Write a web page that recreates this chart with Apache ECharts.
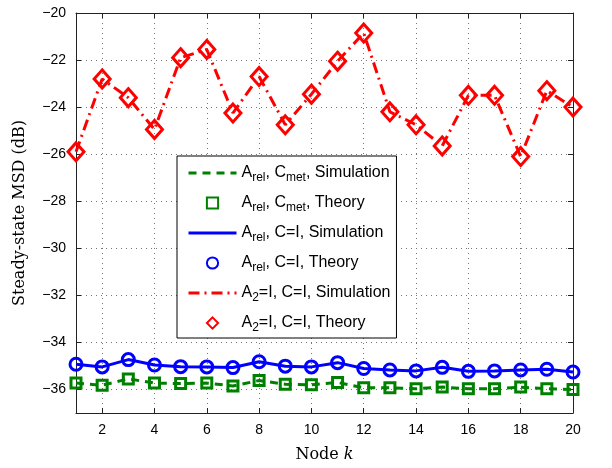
<!DOCTYPE html>
<html>
<head>
<meta charset="utf-8">
<script src="https://cdn.jsdelivr.net/npm/echarts@6/dist/echarts.min.js"></script>
<style>html,body{margin:0;padding:0;background:#fff}#c{width:612px;height:468px}</style>
</head>
<body>
<div id="c"></div>
<script>
const nodes = [1,2,3,4,5,6,7,8,9,10,11,12,13,14,15,16,17,18,19,20];
const xTicks = [2,4,6,8,10,12,14,16,18,20];
const yTicks = [-36,-34,-32,-30,-28,-26,-24,-22,-20];

const relMetSim = [-35.73,-35.82,-35.55,-35.73,-35.75,-35.73,-35.85,-35.62,-35.78,-35.80,-35.70,-35.93,-35.93,-35.97,-35.90,-35.97,-35.97,-35.90,-35.97,-36.00];
const relMetTheory = [-35.73,-35.82,-35.55,-35.73,-35.75,-35.73,-35.85,-35.62,-35.78,-35.80,-35.70,-35.93,-35.93,-35.97,-35.90,-35.97,-35.97,-35.90,-35.97,-36.00];
const relISim = [-34.93,-35.04,-34.73,-34.96,-35.03,-35.04,-35.07,-34.82,-35.01,-35.04,-34.86,-35.11,-35.17,-35.21,-35.06,-35.23,-35.21,-35.17,-35.14,-35.26];
const relITheory = [-34.93,-35.04,-34.73,-34.96,-35.03,-35.04,-35.07,-34.82,-35.01,-35.04,-34.86,-35.11,-35.17,-35.21,-35.06,-35.23,-35.21,-35.17,-35.14,-35.26];
const a2ISim = [-25.9,-22.8,-23.6,-24.95,-21.9,-21.55,-24.25,-22.7,-24.75,-23.45,-22.05,-20.85,-24.2,-24.75,-25.65,-23.5,-23.5,-26.1,-23.3,-24.0];
const a2ITheory = [-25.9,-22.8,-23.6,-24.95,-21.9,-21.55,-24.25,-22.7,-24.75,-23.45,-22.05,-20.85,-24.2,-24.75,-25.65,-23.5,-23.5,-26.1,-23.3,-24.0];

const legendLabels = {
  g_sim: 'A{s|rel}, C{s|met}, Simulation',
  g_th: 'A{s|rel}, C{s|met}, Theory',
  b_sim: 'A{s|rel}, C=I, Simulation',
  b_th: 'A{s|rel}, C=I, Theory',
  r_sim: 'A{s|2}=I, C=I, Simulation',
  r_th: 'A{s|2}=I, C=I, Theory'
};

const GREEN = '#008000', BLUE = '#0000ff', RED = '#ff0000';
const pts = arr => nodes.map((n, i) => [n, arr[i]]);
const minus = v => String(v).replace('-', '\u2212');

function simSeries(name, arr, color, type, z) {
  return { name, type: 'line', data: pts(arr), symbol: 'none', showSymbol: false, z,
    itemStyle: { color }, lineStyle: { color, width: 3, type }, emphasis: { disabled: true } };
}
function thSeries(name, arr, color, symbol, size, z) {
  return { name, type: 'line', data: pts(arr), symbol, symbolSize: size, z,
    itemStyle: { color: 'transparent', borderColor: color, borderWidth: 3 },
    lineStyle: { width: 0, opacity: 0 }, emphasis: { disabled: true } };
}
const hiddenSym = { color: 'transparent', borderColor: 'transparent', borderWidth: 0, opacity: 0 };

const axisLineStyle = { color: '#222', width: 1 };
const option = {
  animation: false,
  backgroundColor: '#fff',
  grid: { left: 76, right: 39, top: 13, bottom: 53 },
  xAxis: [
    { type: 'value', min: 1, max: 20, position: 'bottom',
      name: 'Node {i|k}', nameLocation: 'middle', nameGap: 34,
      nameTextStyle: { fontFamily: 'DejaVu Serif', fontSize: 16, color: '#000',
        rich: { i: { fontFamily: 'DejaVu Serif', fontStyle: 'italic', fontSize: 16, color: '#000' } } },
      axisLine: { show: true, onZero: false, lineStyle: axisLineStyle },
      axisTick: { show: true, inside: true, length: 5, customValues: xTicks, lineStyle: axisLineStyle },
      axisLabel: { customValues: xTicks, margin: 10, fontFamily: 'Liberation Sans', fontSize: 14, color: '#000' },
      splitLine: { show: true, lineStyle: { color: '#777', type: [1, 4], width: 1 } } },
    { type: 'value', min: 1, max: 20, position: 'top',
      axisLine: { show: true, onZero: false, lineStyle: axisLineStyle },
      axisTick: { show: true, inside: true, length: 5, customValues: xTicks, lineStyle: axisLineStyle },
      axisLabel: { show: false }, splitLine: { show: false } }
  ],
  yAxis: [
    { type: 'value', min: -37, max: -20, position: 'left',
      name: 'Steady-state MSD (dB)', nameLocation: 'middle', nameGap: 48, nameRotate: 90,
      nameTextStyle: { fontFamily: 'DejaVu Serif', fontSize: 16, color: '#000' },
      axisLine: { show: true, onZero: false, lineStyle: axisLineStyle },
      axisTick: { show: true, inside: true, length: 5, customValues: yTicks, lineStyle: axisLineStyle },
      axisLabel: { customValues: yTicks, margin: 10, fontFamily: 'Liberation Sans', fontSize: 14, color: '#000', formatter: minus },
      splitLine: { show: true, lineStyle: { color: '#777', type: [1, 4], width: 1 } } },
    { type: 'value', min: -37, max: -20, position: 'right',
      axisLine: { show: true, onZero: false, lineStyle: axisLineStyle },
      axisTick: { show: true, inside: true, length: 5, customValues: yTicks, lineStyle: axisLineStyle },
      axisLabel: { show: false }, splitLine: { show: false } }
  ],
  legend: {
    orient: 'vertical', left: 177, top: 156,
    itemWidth: 48, itemHeight: 14, itemGap: 8,
    padding: [6, 6, 4, 10],
    backgroundColor: '#fff', borderColor: '#000', borderWidth: 1, borderRadius: 0,
    selectedMode: false,
    data: [
      { name: 'g_sim', itemStyle: hiddenSym, lineStyle: { width: 3 } }, { name: 'g_th' },
      { name: 'b_sim', itemStyle: hiddenSym, lineStyle: { width: 3 } }, { name: 'b_th' },
      { name: 'r_sim', itemStyle: hiddenSym, lineStyle: { width: 3 } }, { name: 'r_th' }
    ],
    formatter: n => legendLabels[n],
    textStyle: { fontFamily: 'Liberation Sans', fontSize: 16, color: '#000', lineHeight: 22,
      rich: { s: { fontFamily: 'Liberation Sans', fontSize: 12, lineHeight: 12, verticalAlign: 'bottom', color: '#000' } } }
  },
  series: [
    simSeries('g_sim', relMetSim, GREEN, [8, 6], 3),
    thSeries('g_th', relMetTheory, GREEN, 'rect', 10, 4),
    simSeries('b_sim', relISim, BLUE, 'solid', 3),
    thSeries('b_th', relITheory, BLUE, 'circle', 12, 4),
    simSeries('r_sim', a2ISim, RED, [11, 5, 2, 5], 3),
    thSeries('r_th', a2ITheory, RED, 'diamond', [16, 18], 4)
  ]
};
const chart = echarts.init(document.getElementById('c'), null, { renderer: 'canvas' });
chart.setOption(option);
</script>
</body>
</html>
